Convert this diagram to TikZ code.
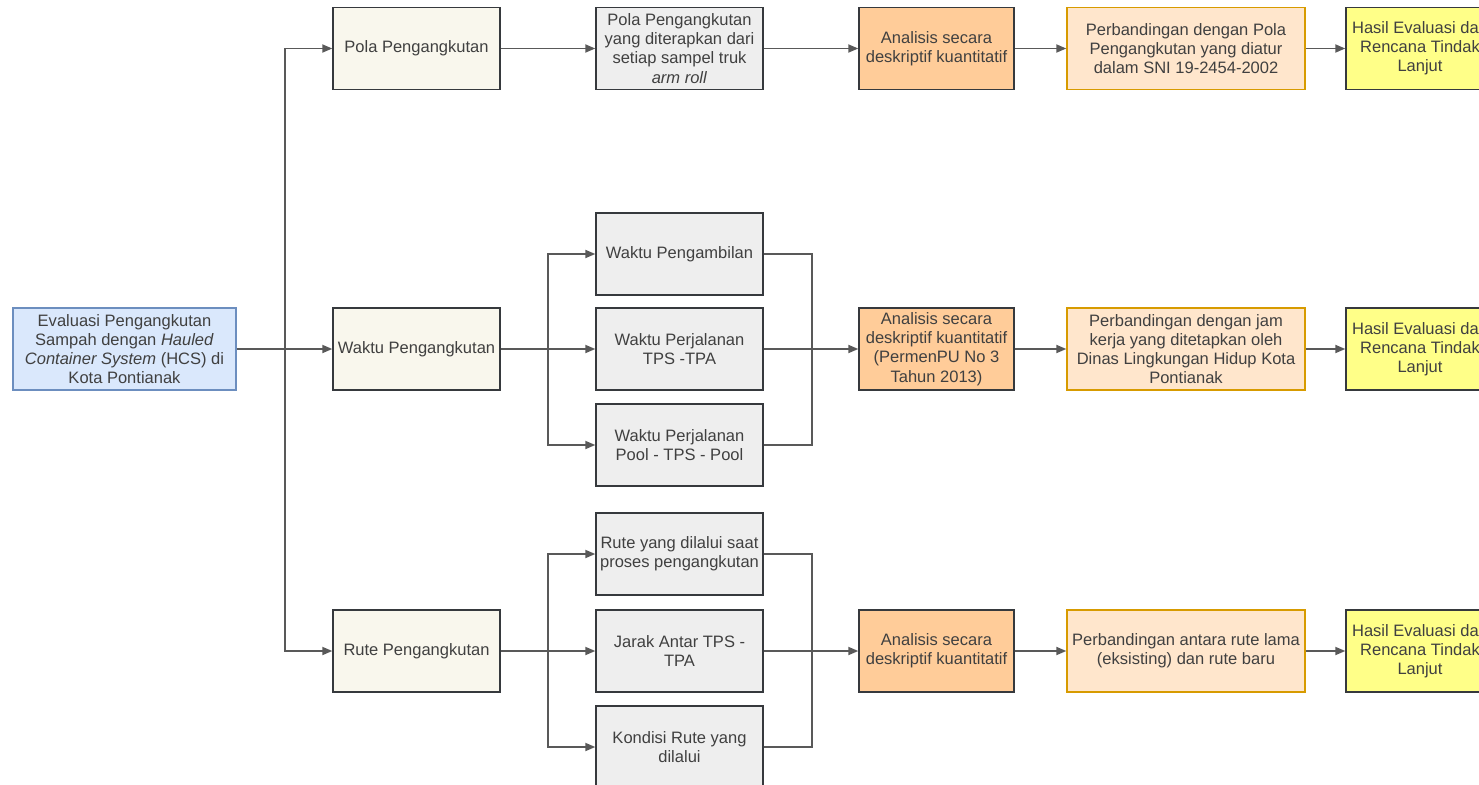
\documentclass[tikz,border=0pt]{standalone}
\usepackage{fontspec}
\setmainfont{Liberation Sans}
\usetikzlibrary{arrows.meta}
\definecolor{srcfill}{HTML}{DAE8FC}
\definecolor{srcline}{HTML}{6C8EBF}
\definecolor{creamfill}{HTML}{F9F7ED}
\definecolor{boxline}{HTML}{36393D}
\definecolor{grayfill}{HTML}{EEEEEE}
\definecolor{anafill}{HTML}{FFCC99}
\definecolor{cmpfill}{HTML}{FFE6CC}
\definecolor{cmpline}{HTML}{D79B00}
\definecolor{hasilfill}{HTML}{FFFF88}
\tikzset{
  box/.style={draw=boxline,line width=0.8pt,minimum height=1.64cm,align=center,inner sep=1pt,
    text=black!75,font=\fontsize{9.4}{10.9}\selectfont},
  srcbox/.style={box,draw=srcline,fill=srcfill,minimum width=4.46cm},
  itembox/.style={box,fill=creamfill,minimum width=3.34cm},
  detailbox/.style={box,fill=grayfill,minimum width=3.34cm},
  anabox/.style={box,fill=anafill,minimum width=3.1cm},
  cmpbox/.style={box,draw=cmpline,fill=cmpfill,minimum width=4.76cm},
  hasilbox/.style={box,fill=hasilfill,minimum width=2.96cm},
  link/.style={draw=black!65,line width=1pt},
}
\begin{document}
\begin{tikzpicture}[x=0.02cm,y=-0.02cm,>={Triangle[length=2mm,width=1.6mm]}]
\useasboundingbox (0,0) rectangle (1479,784);

\node (src) at (124.5,349) [srcbox] {Evaluasi Pengangkutan\\Sampah dengan \textit{Hauled}\\\textit{Container System} (HCS) di\\Kota Pontianak};

\node (pola) at (416.5,48.5) [itembox] {Pola Pengangkutan};
\node (waktu) at (416.5,349) [itembox] {Waktu Pengangkutan};
\node (rute) at (416.5,651) [itembox] {Rute Pengangkutan};

\node (polaA) at (679.5,48.5) [detailbox] {Pola Pengangkutan\\yang diterapkan dari\\setiap sampel truk\\\textit{arm roll}};
\node (wA) at (679.5,254) [detailbox] {Waktu Pengambilan};
\node (wB) at (679.5,349) [detailbox] {Waktu Perjalanan\\TPS -TPA};
\node (wC) at (679.5,445) [detailbox] {Waktu Perjalanan\\Pool - TPS - Pool};
\node (rA) at (679.5,554) [detailbox] {Rute yang dilalui saat\\proses pengangkutan};
\node (rB) at (679.5,651) [detailbox] {Jarak Antar TPS -\\TPA};
\node (rC) at (679.5,747) [detailbox] {Kondisi Rute yang\\dilalui};

\node (an1) at (936.5,48.5) [anabox] {Analisis secara\\deskriptif kuantitatif};
\node (an2) at (936.5,349) [anabox] {Analisis secara\\deskriptif kuantitatif\\(PermenPU No 3\\Tahun 2013)};
\node (an3) at (936.5,651) [anabox] {Analisis secara\\deskriptif kuantitatif};

\node (pb1) at (1186,48.5) [cmpbox] {Perbandingan dengan Pola\\Pengangkutan yang diatur\\dalam SNI 19-2454-2002};
\node (pb2) at (1186,349) [cmpbox] {Perbandingan dengan jam\\kerja yang ditetapkan oleh\\Dinas Lingkungan Hidup Kota\\Pontianak};
\node (pb3) at (1186,651) [cmpbox] {Perbandingan antara rute lama\\(eksisting) dan rute baru};

\node (hs1) at (1420,48.5) [hasilbox] {Hasil Evaluasi dan\\Rencana Tindak\\Lanjut};
\node (hs2) at (1420,349) [hasilbox] {Hasil Evaluasi dan\\Rencana Tindak\\Lanjut};
\node (hs3) at (1420,651) [hasilbox] {Hasil Evaluasi dan\\Rencana Tindak\\Lanjut};

\coordinate (br1) at (285,349);
\coordinate (br2) at (548,349);
\coordinate (br3) at (548,651);
\coordinate (jn2) at (812,349);
\coordinate (jn3) at (812,651);

\draw [link,->] (src) -- (waktu);
\draw [link,->] (br1) |- (pola);
\draw [link,->] (br1) |- (rute);

\draw [link,->] (pola) -- (polaA);
\draw [link,->] (polaA) -- (an1);
\draw [link,->] (an1) -- (pb1);
\draw [link,->] (pb1) -- (hs1);

\draw [link,->] (waktu) -- (wB);
\draw [link,->] (br2) |- (wA);
\draw [link,->] (br2) |- (wC);
\draw [link] (wA) -| (jn2);
\draw [link] (wC) -| (jn2);
\draw [link,->] (wB) -- (an2);
\draw [link,->] (an2) -- (pb2);
\draw [link,->] (pb2) -- (hs2);

\draw [link,->] (rute) -- (rB);
\draw [link,->] (br3) |- (rA);
\draw [link,->] (br3) |- (rC);
\draw [link] (rA) -| (jn3);
\draw [link] (rC) -| (jn3);
\draw [link,->] (rB) -- (an3);
\draw [link,->] (an3) -- (pb3);
\draw [link,->] (pb3) -- (hs3);

\end{tikzpicture}
\end{document}
